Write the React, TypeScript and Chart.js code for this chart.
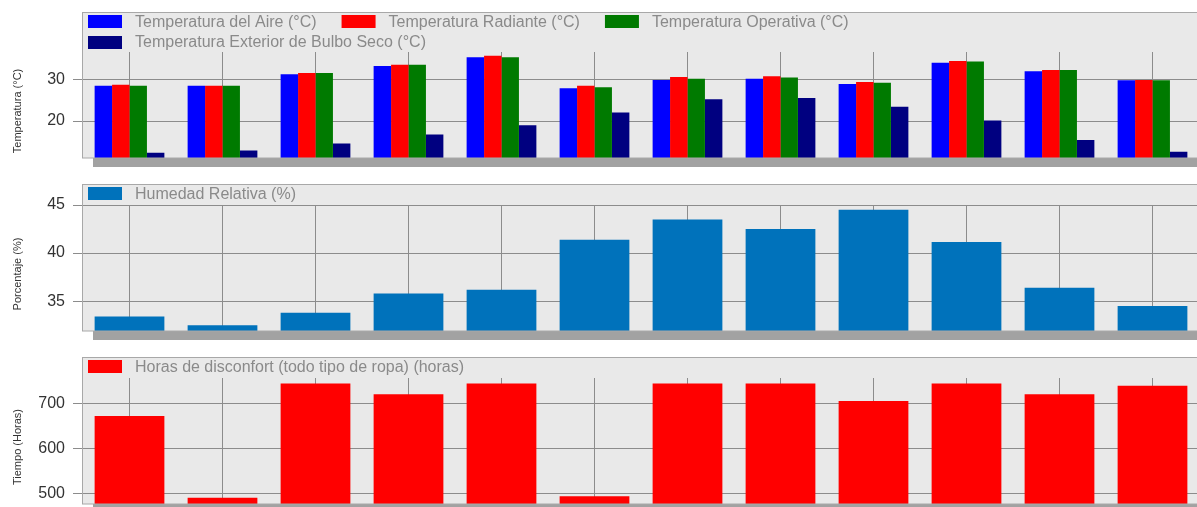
import React, { useEffect, useRef } from 'react';
import { Chart, registerables } from 'chart.js';

Chart.register(...registerables);

// ---- Data ----
const MONTHS = ['Ene', 'Feb', 'Mar', 'Abr', 'May', 'Jun', 'Jul', 'Ago', 'Sep', 'Oct', 'Nov', 'Dic'];

const AIR_TEMP = [28.6, 28.6, 31.4, 33.4, 35.5, 28.0, 30.0, 30.3, 29.0, 34.2, 32.1, 29.9];
const RADIANT_TEMP = [28.8, 28.6, 31.7, 33.7, 35.9, 28.6, 30.7, 30.9, 29.5, 34.6, 32.4, 30.0];
const OPERATIVE_TEMP = [28.6, 28.6, 31.7, 33.7, 35.5, 28.2, 30.3, 30.6, 29.3, 34.5, 32.4, 29.9];
const OUTDOOR_DRY_BULB = [12.3, 12.8, 14.5, 16.7, 19.0, 22.1, 25.3, 25.6, 23.5, 20.1, 15.4, 12.5];

const HUMIDITY = [33.4, 32.5, 33.8, 35.8, 36.2, 41.4, 43.5, 42.5, 44.5, 41.15, 36.4, 34.5];

const DISCOMFORT_HOURS = [672, 491, 744, 720, 744, 494, 744, 744, 705, 744, 720, 739];

const TEMP_TICKS = [20, 30];
const HUMIDITY_TICKS = [35, 40, 45];
const HOURS_TICKS = [500, 600, 700];

const FONT = "Arial, 'Liberation Sans', sans-serif";

// ---- Decoration plugin: gray panel box, floor band, in-box legend, axis title ----
const panelPlugin = {
  id: 'panelDeco',
  beforeDraw(chart: any, _args: any, opts: any) {
    const { ctx, chartArea } = chart;
    ctx.save();
    ctx.fillStyle = '#e9e9e9';
    ctx.fillRect(chartArea.left, opts.boxTop, chartArea.right - chartArea.left, chartArea.bottom - opts.boxTop);
    ctx.fillStyle = '#a2a2a2';
    ctx.fillRect(chartArea.left + 10, chartArea.bottom, chartArea.right - chartArea.left, 9);
    ctx.restore();
  },
  afterDraw(chart: any, _args: any, opts: any) {
    const { ctx, chartArea } = chart;
    ctx.save();
    ctx.strokeStyle = '#a8a8a8';
    ctx.lineWidth = 1;
    ctx.strokeRect(
      Math.floor(chartArea.left) - 0.5,
      opts.boxTop + 0.5,
      chartArea.right - chartArea.left + 1,
      chartArea.bottom - opts.boxTop - 0.5
    );
    // legend
    ctx.font = `16px ${FONT}`;
    ctx.textBaseline = 'middle';
    ctx.textAlign = 'left';
    const rows: number[][] = opts.rows;
    rows.forEach((row, ri) => {
      const cy = opts.boxTop + 9.5 + ri * 20.5;
      let x = 88;
      row.forEach((di) => {
        const ds = chart.data.datasets[di];
        ctx.fillStyle = ds.backgroundColor;
        ctx.fillRect(x, Math.round(cy - 6.5), 34, 13);
        ctx.fillStyle = '#8a8a8a';
        ctx.fillText(ds.label, x + 47, cy + 1);
        x += 47 + ctx.measureText(ds.label).width + 25;
      });
    });
    // y axis title (rotated), centred slightly below the plot centre as in the original
    const title = chart.options.scales.y.title.text;
    ctx.translate(18, (chartArea.top + chartArea.bottom) / 2 + 6);
    ctx.rotate(-Math.PI / 2);
    ctx.font = `11px ${FONT}`;
    ctx.fillStyle = '#333333';
    ctx.textAlign = 'center';
    ctx.textBaseline = 'middle';
    ctx.fillText(title, 0, 0);
    ctx.restore();
  },
};

function makeConfig(
  datasets: any[],
  yMin: number,
  yMax: number,
  ticks: number[],
  yTitle: string,
  padTop: number,
  padBottom: number,
  boxTop: number,
  rows: number[][]
): any {
  return {
    type: 'bar',
    data: { labels: MONTHS, datasets },
    plugins: [panelPlugin],
    options: {
      responsive: false,
      animation: false,
      events: [],
      layout: { padding: { top: padTop, bottom: padBottom, left: 0, right: 0 } },
      datasets: { bar: { categoryPercentage: 0.75, barPercentage: 1, borderWidth: 0 } },
      plugins: {
        legend: { display: false },
        tooltip: { enabled: false },
        panelDeco: { boxTop, rows },
      },
      scales: {
        x: {
          offset: true,
          grid: { offset: false, color: '#8c8c8c', drawTicks: false },
          ticks: { display: false },
          border: { display: false },
          afterFit: (s: any) => {
            s.height = 0;
            s.paddingLeft = 0;
            s.paddingRight = 0;
          },
        },
        y: {
          min: yMin,
          max: yMax,
          afterFit: (s: any) => {
            s.width = 83;
            s.paddingTop = 0;
            s.paddingBottom = 0;
          },
          afterBuildTicks: (s: any) => {
            s.ticks = ticks.map((v) => ({ value: v }));
          },
          ticks: { font: { size: 16, family: FONT }, color: '#333333', padding: 8 },
          grid: { color: '#8c8c8c', tickLength: 10, drawTicks: true },
          border: { display: false },
          title: {
            display: false,
            text: yTitle,
          },
        },
      },
    },
  };
}

export default function App() {
  const r1 = useRef<HTMLCanvasElement>(null);
  const r2 = useRef<HTMLCanvasElement>(null);
  const r3 = useRef<HTMLCanvasElement>(null);

  useEffect(() => {
    document.body.style.margin = '0';
    const c1 = new Chart(
      r1.current!,
      makeConfig(
        [
          { label: 'Temperatura del Aire (°C)', data: AIR_TEMP, backgroundColor: '#0000ff' },
          { label: 'Temperatura Radiante (°C)', data: RADIANT_TEMP, backgroundColor: '#ff0000' },
          { label: 'Temperatura Operativa (°C)', data: OPERATIVE_TEMP, backgroundColor: '#007a00' },
          { label: 'Temperatura Exterior de Bulbo Seco (°C)', data: OUTDOOR_DRY_BULB, backgroundColor: '#000080' },
        ],
        11,
        36.8,
        TEMP_TICKS,
        'Temperatura (°C)',
        52,
        12,
        12,
        [[0, 1, 2], [3]]
      )
    );
    const c2 = new Chart(
      r2.current!,
      makeConfig(
        [{ label: 'Humedad Relativa (%)', data: HUMIDITY, backgroundColor: '#0072bb' }],
        31.9,
        45,
        HUMIDITY_TICKS,
        'Porcentaje (%)',
        35,
        9,
        14,
        [[0]]
      )
    );
    const c3 = new Chart(
      r3.current!,
      makeConfig(
        [{ label: 'Horas de disconfort (todo tipo de ropa) (horas)', data: DISCOMFORT_HOURS, backgroundColor: '#ff0000' }],
        477,
        756,
        HOURS_TICKS,
        'Tiempo (Horas)',
        38,
        3,
        17,
        [[0]]
      )
    );
    return () => {
      c1.destroy();
      c2.destroy();
      c3.destroy();
    };
  }, []);

  const cs: React.CSSProperties = { position: 'absolute', left: 0, display: 'block' };
  return (
    <div
      style={{
        position: 'fixed',
        left: 0,
        top: 0,
        width: 1197,
        height: 507,
        overflow: 'hidden',
        background: '#ffffff',
      }}
    >
      <canvas ref={r1} width={1199} height={170} style={{ ...cs, top: 0, width: 1199, height: 170 }} />
      <canvas ref={r2} width={1199} height={170} style={{ ...cs, top: 170, width: 1199, height: 170 }} />
      <canvas ref={r3} width={1199} height={167} style={{ ...cs, top: 340, width: 1199, height: 167 }} />
    </div>
  );
}
